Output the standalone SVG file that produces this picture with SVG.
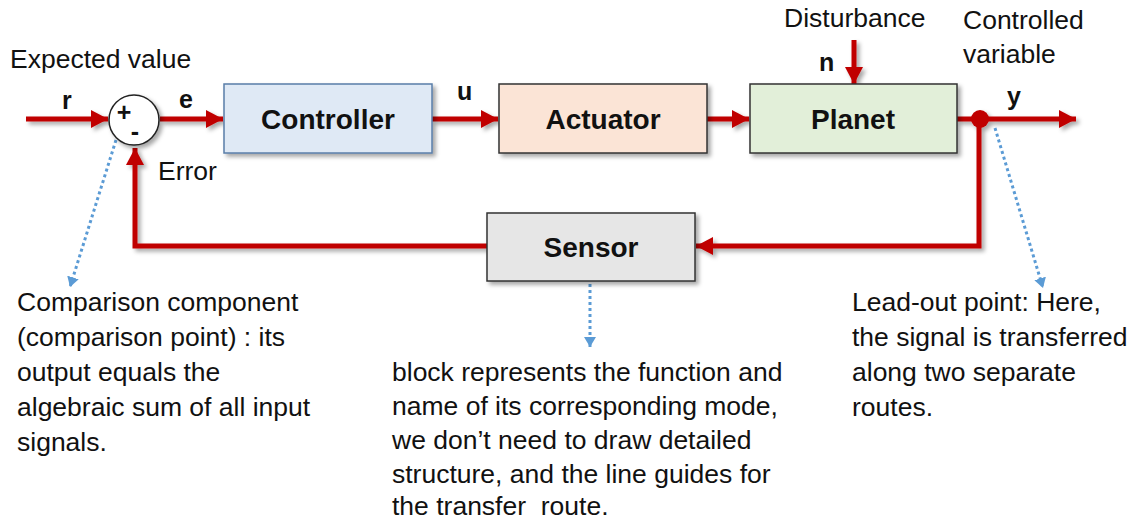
<svg xmlns="http://www.w3.org/2000/svg" width="1129" height="522" viewBox="0 0 1129 522">
<style>
.t{font-family:"Liberation Sans",Arial,sans-serif;font-size:26.5px;fill:#111}
.b{font-family:"Liberation Sans",Arial,sans-serif;font-weight:bold;font-size:25px;fill:#111}
.lbl{font-family:"Liberation Sans",Arial,sans-serif;font-weight:bold;font-size:28px;fill:#111;text-anchor:middle}
.box{stroke-width:1.5}
.sig{fill:none;stroke:#c00000;stroke-width:5}
.note{fill:none;stroke:#5b9bd5;stroke-width:3;stroke-dasharray:3 3}
</style>
<defs>
<filter id="sh" x="-10%" y="-10%" width="130%" height="140%">
<feDropShadow dx="3" dy="3" stdDeviation="2" flood-color="#000" flood-opacity="0.35"/>
</filter>
<marker id="ar" markerUnits="userSpaceOnUse" markerWidth="18" markerHeight="18" refX="17" refY="9" orient="auto">
<path d="M0,0 L17,9 L0,18 z" fill="#c00000"/>
</marker>
<marker id="ab" markerUnits="userSpaceOnUse" markerWidth="12" markerHeight="12" refX="10" refY="6" orient="auto">
<path d="M0,0 L10,6 L0,12 z" fill="#5b9bd5"/>
</marker>
</defs>

<g id="connectors">
<g filter="url(#sh)">
<line class="sig" x1="26" y1="119" x2="108" y2="119" marker-end="url(#ar)"/>
<line class="sig" x1="160" y1="119" x2="223" y2="119" marker-end="url(#ar)"/>
<line class="sig" x1="432" y1="119" x2="498" y2="119" marker-end="url(#ar)"/>
<line class="sig" x1="707" y1="119" x2="749" y2="119" marker-end="url(#ar)"/>
<line class="sig" x1="957" y1="119" x2="1076" y2="119" marker-end="url(#ar)"/>
<line class="sig" x1="854" y1="40" x2="854" y2="84" marker-end="url(#ar)"/>
<polyline class="sig" points="979,119 979,246 696,246" marker-end="url(#ar)"/>
<polyline class="sig" points="487,246 135,246 135,148" marker-end="url(#ar)"/>
<circle cx="980" cy="119" r="9" fill="#c00000"/>
</g>
<line class="note" x1="116" y1="140" x2="70" y2="287" marker-end="url(#ab)"/>
<line class="note" x1="590" y1="284" x2="590" y2="347" marker-end="url(#ab)"/>
<line class="note" x1="995" y1="128" x2="1043" y2="288" marker-end="url(#ab)"/>
</g>

<g id="sum">
<circle cx="134" cy="120" r="25" fill="#fff" stroke="#222" stroke-width="1.5" filter="url(#sh)"/>
<text x="124" y="121" class="b" font-size="22" text-anchor="middle">+</text>
<text x="135" y="140" class="b" font-size="22" text-anchor="middle">-</text>
</g>

<g id="controller">
<rect class="box" x="224" y="84" width="208" height="69" fill="#dfe9f5" stroke="#5a7ea8" filter="url(#sh)"/>
<text x="328" y="129" class="lbl">Controller</text>
</g>
<g id="actuator">
<rect class="box" x="499" y="84" width="208" height="69" fill="#fbe4d6" stroke="#333" filter="url(#sh)"/>
<text x="603" y="129" class="lbl">Actuator</text>
</g>
<g id="planet">
<rect class="box" x="750" y="84" width="207" height="69" fill="#e2efd9" stroke="#333" filter="url(#sh)"/>
<text x="853" y="129" class="lbl">Planet</text>
</g>
<g id="sensor">
<rect class="box" x="487" y="213" width="208" height="68" fill="#e6e6e6" stroke="#333" filter="url(#sh)"/>
<text x="591" y="257" class="lbl">Sensor</text>
</g>

<g id="labels">
<text x="10" y="68" class="t">Expected value</text>
<text x="62" y="109" class="b">r</text>
<text x="179" y="108" class="b">e</text>
<text x="158" y="180" class="t">Error</text>
<text x="457" y="100" class="b">u</text>
<text x="784" y="27" class="t">Disturbance</text>
<text x="819" y="71" class="b">n</text>
<text x="963" y="29" class="t">Controlled</text>
<text x="963" y="63" class="t">variable</text>
<text x="1007" y="105" class="b">y</text>
</g>

<g id="note-comparison">
<text class="t" x="17" y="311">Comparison component</text>
<text class="t" x="17" y="346">(comparison point) : its</text>
<text class="t" x="17" y="381">output equals the</text>
<text class="t" x="17" y="416">algebraic sum of all input</text>
<text class="t" x="17" y="451">signals.</text>
</g>
<g id="note-block">
<text class="t" x="392" y="381">block represents the function and</text>
<text class="t" x="392" y="415">name of its corresponding mode,</text>
<text class="t" x="392" y="449">we don’t need to draw detailed</text>
<text class="t" x="392" y="483">structure, and the line guides for</text>
<text class="t" x="392" y="515" xml:space="preserve">the transfer  route.</text>
</g>
<g id="note-leadout">
<text class="t" x="852" y="311">Lead-out point: Here,</text>
<text class="t" x="852" y="346">the signal is transferred</text>
<text class="t" x="852" y="381">along two separate</text>
<text class="t" x="852" y="416">routes.</text>
</g>
</svg>
